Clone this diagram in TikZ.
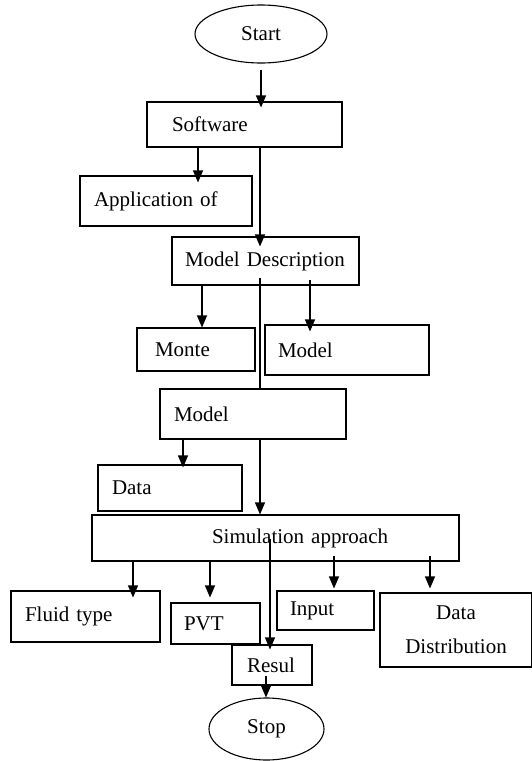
\documentclass[tikz,border=0pt]{standalone}
\usepackage{fontspec}
\setmainfont{Liberation Serif}
\usetikzlibrary{shapes.geometric,arrows.meta}

\begin{document}
\begin{tikzpicture}
[
	x=1pt, y=-1pt,
	box/.style={draw,rectangle,line width=1.1pt,inner xsep=0pt,inner ysep=0pt,align=left,font=\fontsize{21}{25}\selectfont},
	term/.style={draw,ellipse,line width=1.1pt,inner sep=0pt,font=\fontsize{21}{25}\selectfont},
	arr/.style={line width=1.1pt,-{Triangle[length=12pt,width=10pt]}},
	link/.style={line width=1.1pt}
]
	\useasboundingbox (0,0) rectangle (531,761);

	% top part
	\node[term,minimum width=132pt,minimum height=58pt] (start) at (261,34) {Start};
	\node[box,text width=195pt,minimum height=45pt] (soft) at (244.5,124.5) {\hspace*{25pt}Software};
	\node[box,text width=172pt,minimum height=50pt] (app) at (166,201) {\hspace*{14pt}Application of};
	\node[box,text width=187pt,minimum height=48pt] (md) at (265.5,261) {\hspace*{13pt}Model Description};
	\node[box,text width=118pt,minimum height=43pt] (monte) at (196,349.5) {\hspace*{18pt}Monte};
	\node[box,text width=164pt,minimum height=50pt] (modelr) at (347,350) {\hspace*{13pt}Model};
	\node[box,text width=186pt,minimum height=50pt] (model2) at (253,414) {\hspace*{14pt}Model};
	\node[box,text width=144pt,minimum height=46pt] (data) at (170,488) {\hspace*{14pt}Data};

	% simulation and outputs
	\node[box,text width=367pt,minimum height=46pt] (sim) at (275.5,538) {\hspace*{120pt}Simulation approach};
	\node[box,text width=149pt,minimum height=51pt] (fluid) at (85.5,616.5) {\hspace*{14pt}Fluid type};
	\node[box,text width=89pt,minimum height=41pt] (pvt) at (215.5,623.5) {\hspace*{13pt}PVT};
	\node[box,text width=97pt,minimum height=39pt] (input) at (325.5,610.5) {\hspace*{13pt}Input};
	\node[box,text width=152pt,minimum height=74pt,align=center,font=\fontsize{21}{34}\selectfont] (dd) at (456,630) {Data\\Distribution};
	\node[box,text width=80pt,minimum height=40pt] (result) at (272,665) {\hspace*{15pt}Resul};
	\node[term,minimum width=115pt,minimum height=62pt] (stop) at (266.5,729) {Stop};

	% connectors
	\draw[arr,shorten <=6pt,shorten >=-6pt] (start.south) -- (start.south |- soft.north);
	\draw[arr,shorten >=-7pt] ([xshift=-46.5pt]soft.south) -- ([xshift=-46.5pt]soft.south |- app.north);
	\draw[arr,shorten >=-10pt] ([xshift=15.5pt]soft.south) -- ([xshift=15.5pt]soft.south |- md.north);
	\draw[arr] ([xshift=-63.5pt]md.south) -- ([xshift=-63.5pt]md.south |- monte.north);
	\draw[arr,shorten <=-6pt,shorten >=-7pt] ([xshift=44.5pt]md.south) -- ([xshift=44.5pt]md.south |- modelr.north);
	\draw[link,shorten <=-8pt] ([xshift=-5.5pt]md.south) -- ([xshift=-5.5pt]md.south |- model2.north);
	\draw[arr,shorten >=-3pt] ([xshift=-70pt]model2.south) -- ([xshift=-70pt]model2.south |- data.north);
	\draw[arr] ([xshift=7pt]model2.south) -- ([xshift=7pt]model2.south |- sim.north);
	\draw[arr,shorten >=-7pt] ([xshift=-142.5pt]sim.south) -- ([xshift=-142.5pt]sim.south |- fluid.north);
	\draw[arr,shorten >=5pt] ([xshift=-65.5pt]sim.south) -- ([xshift=-65.5pt]sim.south |- pvt.north);
	\draw[arr,shorten <=-6pt,shorten >=2pt] ([xshift=58.5pt]sim.south) -- ([xshift=58.5pt]sim.south |- input.north);
	\draw[arr,shorten <=-6pt,shorten >=4pt] ([xshift=154.5pt]sim.south) -- ([xshift=154.5pt]sim.south |- dd.north);
	\draw[arr,shorten <=-23pt,shorten >=-5pt] ([xshift=-5.5pt]sim.south) -- ([xshift=-5.5pt]sim.south |- result.north);
	\draw[arr,shorten <=-10pt] ([xshift=-6pt]result.south) -- ([xshift=-6pt]result.south |- stop.north);

\end{tikzpicture}
\end{document}
